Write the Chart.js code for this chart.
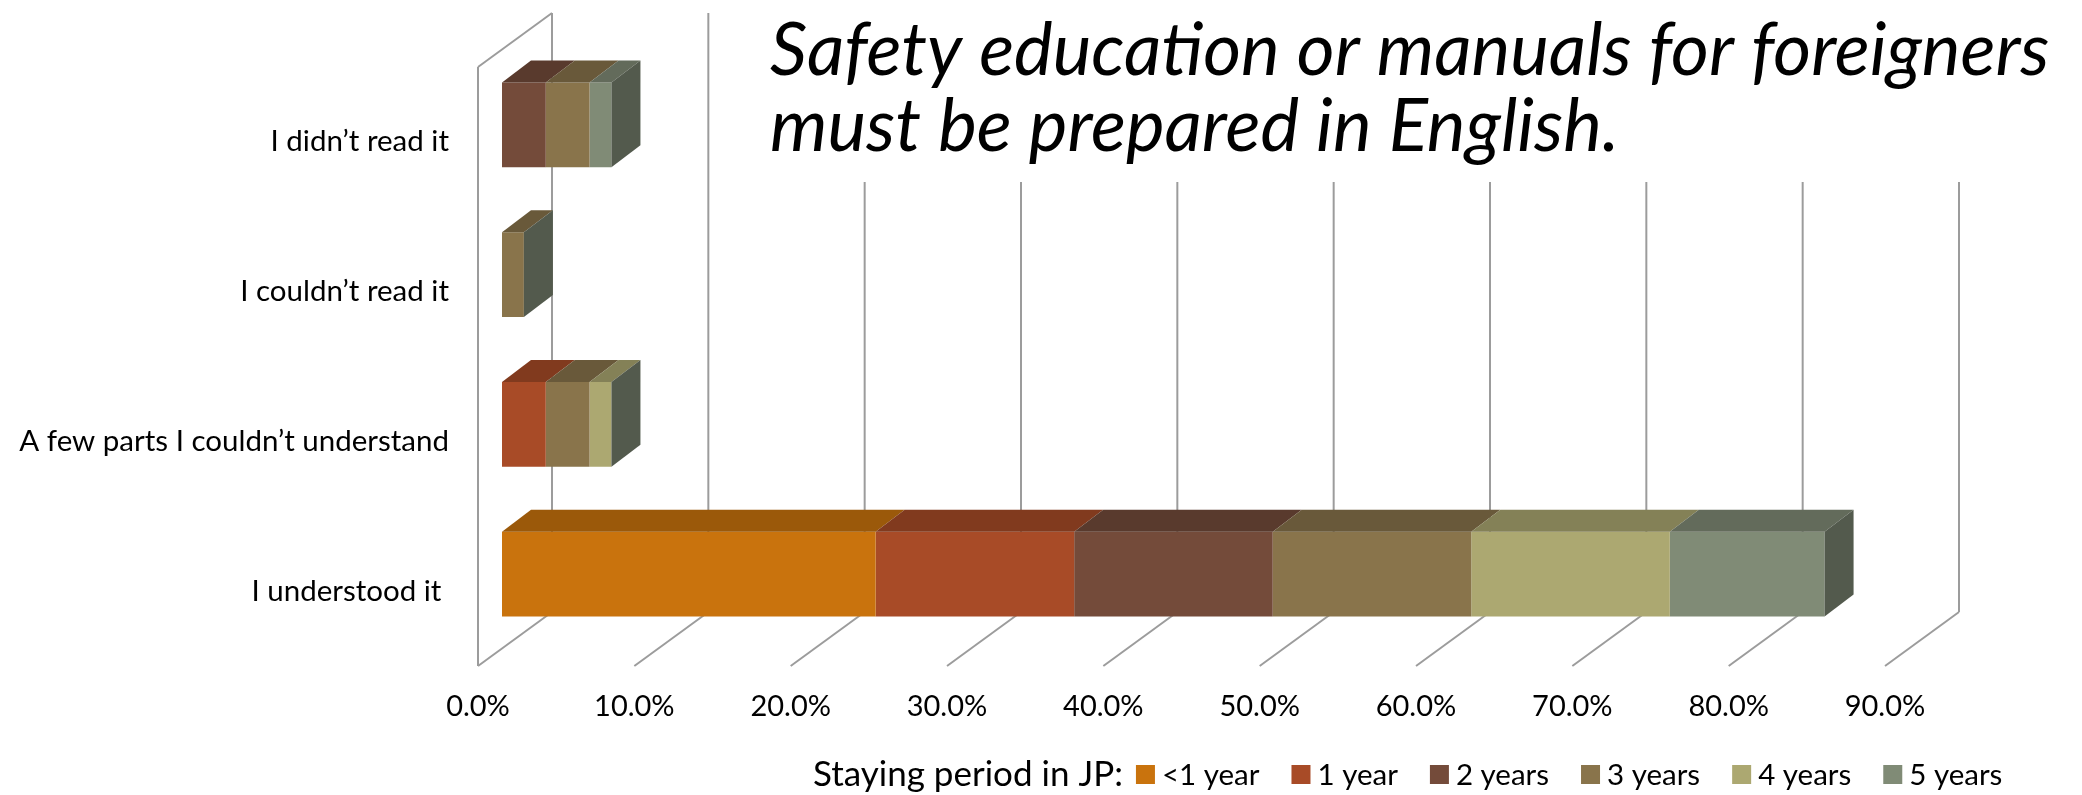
<!DOCTYPE html>
<html>
<head>
<meta charset="utf-8">
<script src="https://cdn.jsdelivr.net/npm/chart.js@4.4.1/dist/chart.umd.min.js"></script>
<style>
  html, body { margin: 0; padding: 0; background: #fff; }
  #wrap { width: 2082px; height: 795px; }
</style>
</head>
<body>
<div id="wrap"><canvas id="mychart" width="2082" height="795"></canvas></div>
<script>
// categories, top to bottom
const categories = [
  "I didn\u2019t read it",
  "I couldn\u2019t read it",
  "A few parts I couldn\u2019t understand",
  "I understood it ",
];

// percent of respondents, per staying period
const lessThan1 = [0, 0, 0, 23.9];
const year1 = [0, 0, 2.8, 12.7];
const years2 = [2.8, 0, 0, 12.7];
const years3 = [2.8, 1.4, 2.8, 12.7];
const years4 = [0, 0, 1.4, 12.7];
const years5 = [1.4, 0, 0, 9.9];

const seriesNames = ["<1 year", "1 year", "2 years", "3 years", "4 years", "5 years"];
const seriesColors = ["#C9730D", "#A84B27", "#744B3A", "#89744B", "#ACA871", "#808B76"];

const tickValues = [0, 10, 20, 30, 40, 50, 60, 70, 80, 90];

const titleLines = ["Safety education or manuals for foreigners", "must be prepared in English."];
const legendTitle = "Staying period in JP:";

const FONT = "Lato, 'Open Sans', sans-serif";

// depth offsets (px) relative to the bar plane
const front = { dx: -24, dy: 17 };
const back = { dx: 50, dy: -37 };
const barDepth = { dx: 29, dy: -22 };

let shade = function (hex, f) {
  let n = parseInt(hex.slice(1), 16);
  let r = Math.round(((n >> 16) & 255) * f);
  let g = Math.round(((n >> 8) & 255) * f);
  let b = Math.round((n & 255) * f);
  return "rgb(" + r + "," + g + "," + b + ")";
};

let line = function (ctx, x1, y1, x2, y2) {
  ctx.beginPath();
  ctx.moveTo(x1, y1);
  ctx.lineTo(x2, y2);
  ctx.stroke();
};

// walls and gridlines of the 3d box
const wallsPlugin = {
  id: "walls",
  beforeDatasetsDraw(chart) {
    const ctx = chart.ctx;
    const xs = chart.scales.x;
    const { top, bottom } = chart.chartArea;
    ctx.save();
    ctx.strokeStyle = "#9C9C9C";
    ctx.lineWidth = 2;
    const x0 = xs.getPixelForValue(0);
    line(ctx, x0 + front.dx, top + front.dy, x0 + front.dx, bottom + front.dy);
    line(ctx, x0 + front.dx, top + front.dy, x0 + back.dx, top + back.dy);
    tickValues.forEach((v) => {
      const px = xs.getPixelForValue(v);
      line(ctx, px + back.dx, top + back.dy, px + back.dx, bottom + back.dy);
      line(ctx, px + back.dx, bottom + back.dy, px + front.dx, bottom + front.dy);
    });
    ctx.restore();
  },
};

// top and side faces of the stacked bars
const facesPlugin = {
  id: "faces",
  afterDatasetsDraw(chart) {
    const ctx = chart.ctx;
    const n = chart.data.datasets.length;
    ctx.save();
    for (let i = 0; i < categories.length; i++) {
      for (let d = 0; d < n; d++) {
        const el = chart.getDatasetMeta(d).data[i];
        const p = el.getProps(["x", "y", "base", "height"], true);
        const l = Math.min(p.x, p.base);
        const r = Math.max(p.x, p.base);
        const t = p.y - p.height / 2;
        if (r - l < 0.5) continue;
        ctx.fillStyle = shade(seriesColors[d], 0.77);
        ctx.beginPath();
        ctx.moveTo(l, t);
        ctx.lineTo(r, t);
        ctx.lineTo(r + barDepth.dx, t + barDepth.dy);
        ctx.lineTo(l + barDepth.dx, t + barDepth.dy);
        ctx.closePath();
        ctx.fill();
      }
      // end cap always takes the last series' colour
      const last = chart.getDatasetMeta(n - 1).data[i].getProps(["x", "y", "height"], true);
      const t = last.y - last.height / 2;
      const b = last.y + last.height / 2;
      ctx.fillStyle = shade(seriesColors[n - 1], 0.65);
      ctx.beginPath();
      ctx.moveTo(last.x, t);
      ctx.lineTo(last.x + barDepth.dx, t + barDepth.dy);
      ctx.lineTo(last.x + barDepth.dx, b + barDepth.dy);
      ctx.lineTo(last.x, b);
      ctx.closePath();
      ctx.fill();
    }
    ctx.restore();
  },
};

// title box and legend row
const textPlugin = {
  id: "texts",
  afterDraw(chart) {
    const ctx = chart.ctx;
    ctx.save();
    ctx.fillStyle = "#fff";
    ctx.fillRect(745, 0, 2082 - 745, 182);
    ctx.fillStyle = "#000";
    ctx.textBaseline = "alphabetic";
    ctx.textAlign = "left";
    ctx.font = "italic 73px " + FONT;
    ctx.fillText(titleLines[0], 770, 75);
    ctx.fillText(titleLines[1], 770, 151);

    // legend
    ctx.textBaseline = "middle";
    const y = 775;
    let x = 813;
    ctx.font = "35px " + FONT;
    ctx.fillText(legendTitle, x, y);
    x += ctx.measureText(legendTitle).width + 13;
    ctx.font = "29.5px " + FONT;
    seriesNames.forEach((name, k) => {
      ctx.fillStyle = seriesColors[k];
      ctx.fillRect(x, y - 10, 19, 19);
      ctx.fillStyle = "#000";
      ctx.fillText(name, x + 26, y);
      x += 26 + ctx.measureText(name).width + 32;
    });
    ctx.restore();
  },
};

const datasets = [lessThan1, year1, years2, years3, years4, years5].map((vals, k) => ({
  label: seriesNames[k],
  data: vals,
  backgroundColor: seriesColors[k],
  borderWidth: 0,
  barPercentage: 0.567,
  categoryPercentage: 1,
}));

const chart = new Chart(document.getElementById("mychart"), {
  type: "bar",
  data: { labels: categories, datasets: datasets },
  options: {
    indexAxis: "y",
    responsive: false,
    animation: false,
    layout: { padding: { top: 50, right: 173, left: 0, bottom: 0 } },
    plugins: {
      legend: { display: false },
      tooltip: { enabled: false },
    },
    scales: {
      x: {
        stacked: true,
        min: 0,
        max: 90,
        grid: { display: false, drawTicks: false },
        border: { display: false },
        afterFit: (scale) => {
          scale.height = 146;
          scale.paddingLeft = 0;
          scale.paddingRight = 0;
        },
        ticks: {
          stepSize: 10,
          color: "#000",
          font: { family: FONT, size: 29 },
          padding: 40,
          labelOffset: front.dx,
          maxRotation: 0,
          autoSkip: false,
          callback: (v) => Number(v).toFixed(1) + "%",
        },
      },
      y: {
        stacked: true,
        grid: { display: false, drawTicks: false },
        border: { display: false },
        afterFit: (scale) => {
          scale.width = 502;
          scale.paddingTop = 0;
          scale.paddingBottom = 0;
        },
        ticks: {
          color: "#000",
          font: { family: FONT, size: 29.5 },
          padding: 53,
          labelOffset: front.dy,
        },
      },
    },
  },
  plugins: [wallsPlugin, facesPlugin, textPlugin],
});
</script>
</body>
</html>
